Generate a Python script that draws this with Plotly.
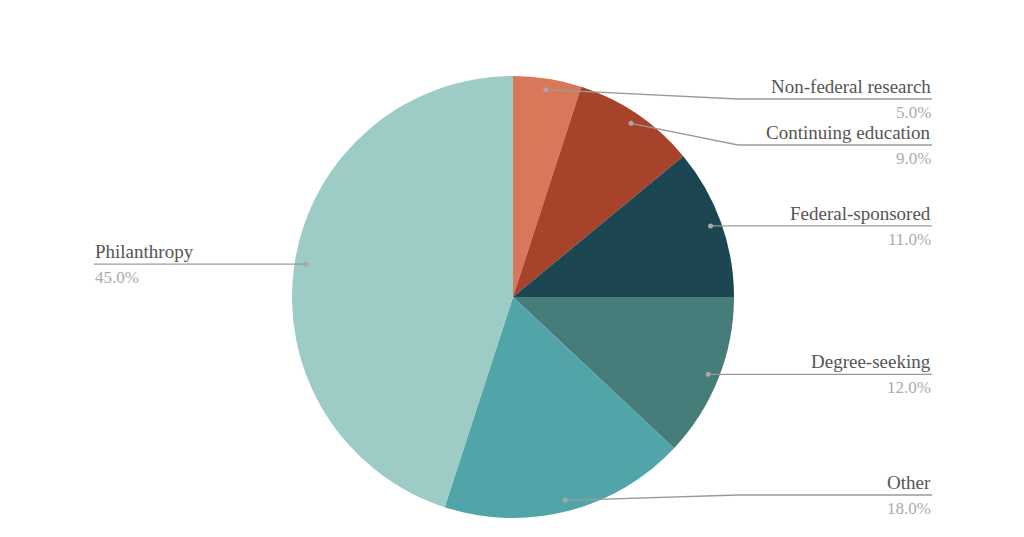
import math
import plotly.graph_objects as go

labels = ["Non-federal research", "Continuing education", "Federal-sponsored",
          "Degree-seeking", "Other", "Philanthropy"]
values = [5.0, 9.0, 11.0, 12.0, 18.0, 45.0]
colors = ["#D8775A", "#A7432A", "#1B4652", "#467D7A", "#51A5A8", "#9DCBC6"]

W, H = 1024, 537
OFF = 8                            # page body margin
CX, CY, R = 513, 297, 221          # pie centre / radius in pixels (page coords)
RIGHT_X, LEFT_X = 932, 94          # label edges
ELBOW_X = 738
Y_MIN, Y_MAX, GAP = 99, 495, 46    # label line bounds and min spacing

def px(x):
    return (x - OFF) / W

def py(y):
    return 1 - (y - OFF) / H

fig = go.Figure(go.Pie(
    labels=labels, values=values, sort=False, direction="clockwise", rotation=0,
    marker=dict(colors=colors, line=dict(width=0)),
    textinfo="none", hoverinfo="label+percent", showlegend=False,
    domain=dict(x=[px(CX - R), px(CX + R)], y=[py(CY + R), py(CY - R)]),
))

total = sum(values)
cum = 0
items = []
for lab, v in zip(labels, values):
    mid = (cum + v / 2) / total * 2 * math.pi
    cum += v
    dx = 0.95 * R * math.sin(mid)
    dy = -0.95 * R * math.cos(mid)
    items.append(dict(label=lab, pct=v / total * 100, x=CX + dx, y=CY + dy,
                      right=dx > 0))

# resolve label positions on the right side
right = sorted([it for it in items if it["right"]], key=lambda it: it["y"])
prev = None
for it in right:
    ly = max(it["y"], Y_MIN)
    if prev is not None:
        ly = max(ly, prev + GAP)
    ly = min(ly, Y_MAX)
    it["ly"] = ly
    prev = ly
for it in items:
    if not it["right"]:
        it["ly"] = it["y"]

shapes = []
annotations = []
line_style = dict(color="#9a9a9a", width=1.3)
for it in items:
    if it["right"]:
        if abs(it["ly"] - it["y"]) > 1:
            shapes.append(dict(type="line", xref="paper", yref="paper",
                               x0=px(it["x"]), y0=py(it["y"]), x1=px(ELBOW_X), y1=py(it["ly"]),
                               line=line_style))
            x_start = ELBOW_X
        else:
            x_start = it["x"]
        shapes.append(dict(type="line", xref="paper", yref="paper",
                           x0=px(x_start), y0=py(it["ly"]), x1=px(RIGHT_X), y1=py(it["ly"]),
                           line=line_style))
        ax, anchor = RIGHT_X, "right"
    else:
        shapes.append(dict(type="line", xref="paper", yref="paper",
                           x0=px(LEFT_X), y0=py(it["ly"]), x1=px(it["x"]), y1=py(it["ly"]),
                           line=line_style))
        ax, anchor = LEFT_X, "left"
    shapes.append(dict(type="circle", xref="paper", yref="paper",
                       x0=px(it["x"] - 2.5), x1=px(it["x"] + 2.5),
                       y0=py(it["y"] + 2.5), y1=py(it["y"] - 2.5),
                       fillcolor="#a8a8a8", line=dict(width=0)))
    annotations.append(dict(xref="paper", yref="paper", x=px(ax), y=py(it["ly"] - 1),
                            text=it["label"], showarrow=False, xanchor=anchor,
                            yanchor="bottom", borderpad=0,
                            font=dict(family="Liberation Serif", size=19, color="#555555")))
    annotations.append(dict(xref="paper", yref="paper", x=px(ax), y=py(it["ly"] + 3),
                            text=f"{it['pct']:.1f}%", showarrow=False, xanchor=anchor,
                            yanchor="top", borderpad=0,
                            font=dict(family="Liberation Serif", size=17, color="#ababab")))

fig.update_layout(width=W, height=H, margin=dict(l=0, r=0, t=0, b=0),
                  paper_bgcolor="white", plot_bgcolor="white",
                  shapes=shapes, annotations=annotations)

fig.write_html("out.html")
